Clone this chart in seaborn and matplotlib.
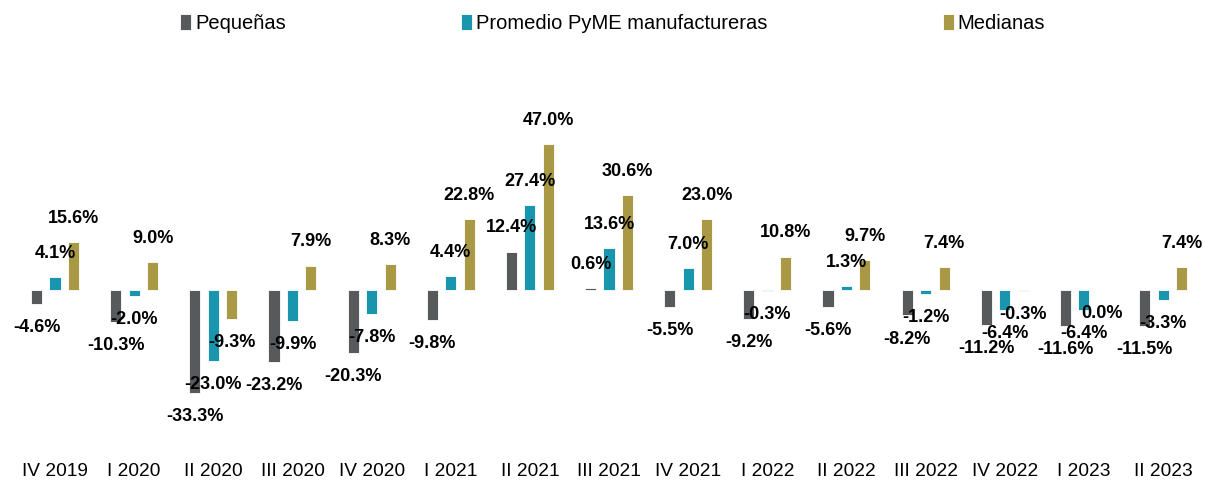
import pandas as pd
import seaborn as sns
import matplotlib.pyplot as plt

# Datos: variación porcentual por trimestre
periodos = ['IV 2019', 'I 2020', 'II 2020', 'III 2020', 'IV 2020', 'I 2021', 'II 2021',
            'III 2021', 'IV 2021', 'I 2022', 'II 2022', 'III 2022', 'IV 2022', 'I 2023', 'II 2023']
pequenas = [-4.6, -10.3, -33.3, -23.2, -20.3, -9.8, 12.4, 0.6, -5.5, -9.2, -5.6, -8.2, -11.2, -11.6, -11.5]
promedio = [4.1, -2.0, -23.0, -9.9, -7.8, 4.4, 27.4, 13.6, 7.0, -0.3, 1.3, -1.2, -6.4, -6.4, -3.3]
medianas = [15.6, 9.0, -9.3, 7.9, 8.3, 22.8, 47.0, 30.6, 23.0, 10.8, 9.7, 7.4, -0.3, 0.0, 7.4]

series = ['Pequeñas', 'Promedio PyME manufactureras', 'Medianas']
colores = ['#58595B', '#00A7C6', '#BBA433']

df = pd.DataFrame({
    'periodo': periodos * 3,
    'valor': pequenas + promedio + medianas,
    'serie': [s for s in series for _ in periodos],
})

sns.set_style('white')
plt.rcParams['font.family'] = ['Liberation Sans', 'DejaVu Sans']
plt.rcParams['text.color'] = 'black'
plt.rcParams['xtick.color'] = 'black'

fig = plt.figure(figsize=(12.06, 4.84), dpi=100)
ax = fig.add_axes([0.0128, 0.0486, 0.9844, 0.7045])

sns.barplot(data=df, x='periodo', y='valor', hue='serie', palette=colores,
            width=0.7, gap=0.4, errorbar=None, edgecolor='white', linewidth=0.6, ax=ax)

# etiquetas de datos
for cont in ax.containers:
    for bar in cont:
        v = bar.get_height()
        xc = bar.get_x() + bar.get_width() / 2
        off = 17 if v > 0 else -17
        ax.annotate(f'{v:.1f}%', (xc, v), xytext=(0, off), textcoords='offset points',
                    ha='center', va='center', fontsize=13, fontweight='bold', color='black')

ax.set_xlim(-0.5, 14.5)
ax.set_ylim(-55, 55)
ax.set_xlabel('')
ax.set_ylabel('')
ax.set_yticks([])
ax.tick_params(axis='x', length=0, labelsize=13.8, pad=2, labelcolor='black')
for s in ax.spines.values():
    s.set_visible(False)

handles, labels = ax.get_legend_handles_labels()
ax.legend(handles, labels, loc='center', bbox_to_anchor=(0.508, 0.952),
          bbox_transform=fig.transFigure, ncol=3, frameon=False, fontsize=14.5,
          handlelength=0.55, handleheight=0.85, handletextpad=0.2, columnspacing=8.7)

plt.savefig('out.png', dpi=100)
